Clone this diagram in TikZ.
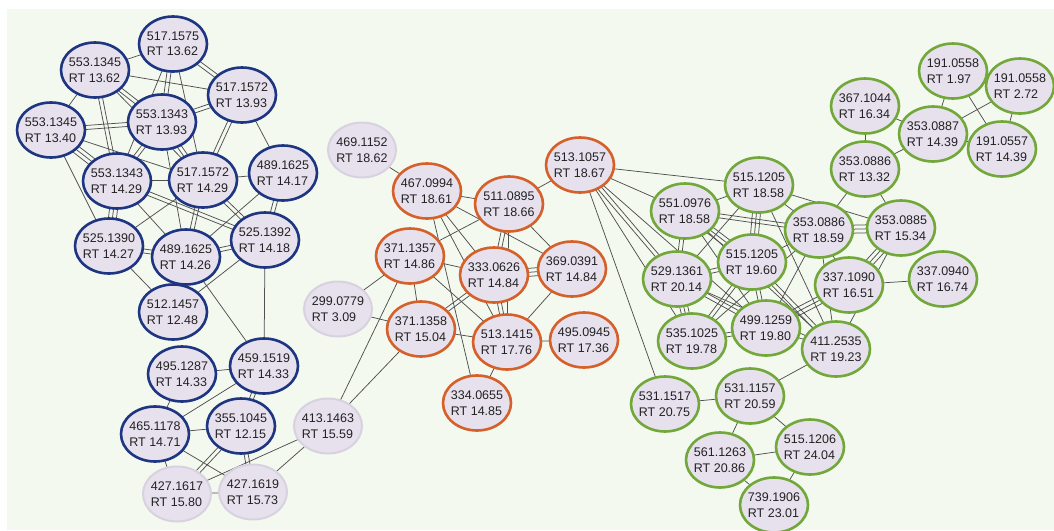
\documentclass[tikz,border=0pt]{standalone}
\usepackage{fontspec}
\setmainfont{Liberation Sans}
\usetikzlibrary{shapes.geometric,calc}
\pgfdeclarelayer{bg}
\pgfsetlayers{bg,main}
\definecolor{mint}{HTML}{F3F9EF}
\definecolor{lav}{HTML}{E7E1EE}
\definecolor{navy}{HTML}{1E3582}
\definecolor{rust}{HTML}{D5602A}
\definecolor{leaf}{HTML}{72A83A}
\definecolor{ring}{HTML}{D8D2E0}
\definecolor{wiregray}{HTML}{505050}
\definecolor{ink}{HTML}{222222}
\tikzset{
  ion/.style={ellipse, fill=lav, line width=2.6pt, minimum width=68pt,
    minimum height=55pt, inner xsep=-4pt, inner ysep=0pt, align=left,
    font=\fontsize{12.5}{15.5}\selectfont, text=ink},
  blueion/.style={ion, draw=navy},
  redion/.style={ion, draw=rust},
  greenion/.style={ion, draw=leaf},
  greyion/.style={ion, draw=ring, line width=2pt},
  wire/.style={draw=wiregray, line width=0.75pt},
}
\newcommand\mz[5]{\node[#1] (#2) at (#3,#4) {#5};}
\begin{document}
\begin{tikzpicture}[x=1pt,y=-1pt]
\useasboundingbox (0,0) rectangle (1054,530);
% blue cluster
\mz{blueion}{b1}{173}{44}{517.1575\\RT 13.62}
\mz{blueion}{b2}{95}{70}{553.1345\\RT 13.62}
\mz{blueion}{b3}{242}{95}{517.1572\\RT 13.93}
\mz{blueion}{b4}{162}{122}{553.1343\\RT 13.93}
\mz{blueion}{b5}{51}{130}{553.1345\\RT 13.40}
\mz{blueion}{b6}{117}{181}{553.1343\\RT 14.29}
\mz{blueion}{b7}{203}{180}{517.1572\\RT 14.29}
\mz{blueion}{b8}{283}{173}{489.1625\\RT 14.17}
\mz{blueion}{b9}{109}{246}{525.1390\\RT 14.27}
\mz{blueion}{b10}{186}{257}{489.1625\\RT 14.26}
\mz{blueion}{b11}{265}{240}{525.1392\\RT 14.18}
\mz{blueion}{b12}{173}{312}{512.1457\\RT 12.48}
\mz{blueion}{b13}{182}{374}{495.1287\\RT 14.33}
\mz{blueion}{b14}{264}{366}{459.1519\\RT 14.33}
\mz{blueion}{b15}{155}{434}{465.1178\\RT 14.71}
\mz{blueion}{b16}{241}{426}{355.1045\\RT 12.15}
% unassigned ions
\mz{greyion}{g1}{328}{426}{413.1463\\RT 15.59}
\mz{greyion}{g2}{177}{494}{427.1617\\RT 15.80}
\mz{greyion}{g3}{253}{492}{427.1619\\RT 15.73}
\mz{greyion}{g4}{338}{309}{299.0779\\RT 3.09}
\mz{greyion}{g5}{362}{150}{469.1152\\RT 18.62}
% orange cluster
\mz{redion}{o1}{427}{191}{467.0994\\RT 18.61}
\mz{redion}{o2}{509}{204}{511.0895\\RT 18.66}
\mz{redion}{o3}{580}{165}{513.1057\\RT 18.67}
\mz{redion}{o4}{410}{256}{371.1357\\RT 14.86}
\mz{redion}{o5}{494}{275}{333.0626\\RT 14.84}
\mz{redion}{o6}{572}{269}{369.0391\\RT 14.84}
\mz{redion}{o7}{421}{329}{371.1358\\RT 15.04}
\mz{redion}{o8}{507}{342}{513.1415\\RT 17.76}
\mz{redion}{o9}{584}{340}{495.0945\\RT 17.36}
\mz{redion}{o10}{477}{403}{334.0655\\RT 14.85}
% green cluster
\mz{greenion}{gr1}{759}{185}{515.1205\\RT 18.58}
\mz{greenion}{gr2}{685}{211}{551.0976\\RT 18.58}
\mz{greenion}{gr3}{819}{230}{353.0886\\RT 18.59}
\mz{greenion}{gr4}{901}{228}{353.0885\\RT 15.34}
\mz{greenion}{gr5}{752}{262}{515.1205\\RT 19.60}
\mz{greenion}{gr6}{677}{279}{529.1361\\RT 20.14}
\mz{greenion}{gr7}{849}{285}{337.1090\\RT 16.51}
\mz{greenion}{gr8}{943}{279}{337.0940\\RT 16.74}
\mz{greenion}{gr9}{692}{341}{535.1025\\RT 19.78}
\mz{greenion}{gr10}{766}{328}{499.1259\\RT 19.80}
\mz{greenion}{gr11}{836}{349}{411.2535\\RT 19.23}
\mz{greenion}{gr12}{665}{404}{531.1517\\RT 20.75}
\mz{greenion}{gr13}{750}{396}{531.1157\\RT 20.59}
\mz{greenion}{gr14}{720}{460}{561.1263\\RT 20.86}
\mz{greenion}{gr15}{810}{447}{515.1206\\RT 24.04}
\mz{greenion}{gr16}{774}{505}{739.1906\\RT 23.01}
\mz{greenion}{gr17}{865}{106}{367.1044\\RT 16.34}
\mz{greenion}{gr18}{865}{169}{353.0886\\RT 13.32}
\mz{greenion}{gr19}{933}{134}{353.0887\\RT 14.39}
\mz{greenion}{gr20}{953}{71}{191.0558\\RT 1.97}
\mz{greenion}{gr21}{1020}{86}{191.0558\\RT 2.72}
\mz{greenion}{gr22}{1002}{149}{191.0557\\RT 14.39}
\begin{pgfonlayer}{bg}
\fill[white] (0,0) rectangle (1054,530);
\fill[mint] (7,9) rectangle (1054,530);
% links: first/second/number of parallel lines
\foreach \a/\b/\n in {
  b1/b2/1, b2/b3/1, b1/b3/2, b1/b4/2, b1/b6/1, b1/b7/1, b2/b4/2, b2/b5/1,
  b2/b6/2, b2/b7/1, b5/b4/2, b4/b3/2, b5/b6/3, b5/b7/1, b5/b9/1, b4/b6/2,
  b4/b7/2, b4/b10/1, b3/b7/2, b3/b8/1, b6/b7/1, b6/b9/3, b6/b10/1, b6/b11/2,
  b7/b8/1, b7/b9/1, b7/b10/2, b7/b11/2, b8/b11/2, b8/b10/1, b9/b10/2,
  b10/b11/2, b9/b12/1, b11/b12/1, b10/b14/1, b11/b14/1, b13/b14/1,
  b13/b15/1, b14/b15/1, b14/b16/2, b15/b16/1, b15/g2/1, b15/g3/1,
  b16/g2/2, b16/g3/2, g1/g2/1, g1/g3/1, g2/g3/1,
  g1/o4/1, g1/o7/1, g4/o4/1, g4/o7/1, g5/o1/1, o1/o2/1, o2/o3/1, o1/o5/1,
  o1/o6/1, o1/o10/1, o1/o8/1, o2/o4/1, o2/o5/2, o2/o8/1, o2/o6/1, o4/o5/1,
  o4/o7/1, o4/o8/1, o5/o6/3, o5/o7/2, o5/o8/2, o6/o8/1, o7/o8/1, o8/o9/1,
  o8/o10/1,
  o3/gr1/1, o3/gr2/1, o3/gr10/1, o3/gr6/2, o3/gr9/1, o3/gr12/1,
  gr2/gr1/1, gr2/gr3/2, gr1/gr3/1, gr1/gr4/1, gr1/gr5/3, gr1/gr6/1,
  gr1/gr11/1, gr2/gr5/3, gr2/gr6/2, gr2/gr10/1, gr2/gr11/1, gr3/gr4/3,
  gr5/gr3/1, gr5/gr6/2, gr5/gr9/2, gr5/gr10/2, gr5/gr11/2, gr6/gr9/3,
  gr6/gr10/2, gr6/gr11/1, gr9/gr10/2, gr3/gr10/1, gr3/gr9/1, gr3/gr7/1,
  gr3/gr11/1, gr4/gr11/1, gr4/gr7/3, gr7/gr10/3, gr10/gr11/1, gr7/gr8/1,
  gr3/gr18/1, gr4/gr18/1, gr11/gr13/1, gr12/gr13/1, gr13/gr14/1,
  gr13/gr15/1, gr14/gr15/1, gr14/gr16/1, gr15/gr16/1, gr17/gr18/1,
  gr17/gr19/1, gr18/gr19/1, gr19/gr20/1, gr19/gr21/1, gr19/gr22/1,
  gr20/gr21/1, gr20/gr22/1, gr21/gr22/1}{
  \foreach \k in {1,...,\n}{
    \pgfmathsetmacro\off{(\k-(\n+1)/2)*4}
    \draw[wire] ($(\a)!\off pt!90:(\b)$) -- ($(\b)!\off pt!-90:(\a)$);
  }
}
\end{pgfonlayer}
\end{tikzpicture}
\end{document}
